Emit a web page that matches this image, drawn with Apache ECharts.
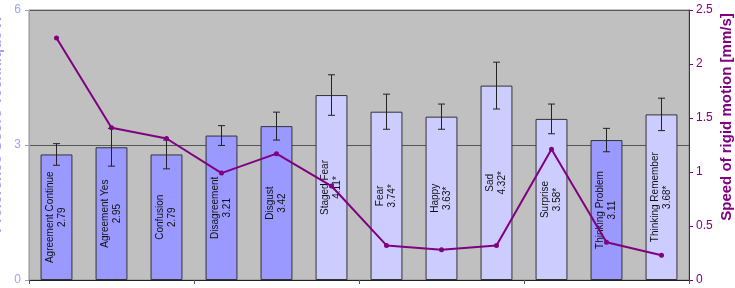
<!DOCTYPE html>
<html>
<head>
<meta charset="utf-8">
<script src="https://cdn.jsdelivr.net/npm/echarts@6/dist/echarts.min.js"></script>
<style>
  html, body { margin: 0; padding: 0; background: #fff; }
  #chart { width: 735px; height: 288px; }
</style>
</head>
<body>
<div id="chart"></div>
<script>
// values
const categories = ['Agreement Continue', 'Agreement Yes', 'Confusion', 'Disagreement', 'Disgust',
	'Staged Fear', 'Fear', 'Happy', 'Sad', 'Surprise', 'Thinking Problem', 'Thinking Remember'];
const scores = [2.79, 2.95, 2.79, 3.21, 3.42, 4.11, 3.74, 3.63, 4.32, 3.58, 3.11, 3.68];
const scoreErrors = [0.24, 0.42, 0.32, 0.22, 0.31, 0.45, 0.39, 0.28, 0.52, 0.33, 0.26, 0.36];
const significant = [false, false, false, false, false, true, true, true, true, true, false, true];
const speed = [2.24, 1.41, 1.31, 0.99, 1.17, 0.87, 0.32, 0.28, 0.32, 1.21, 0.35, 0.23];
const leftTicks = [0, 3, 6];

const chart = echarts.init(document.getElementById('chart'), null, { renderer: 'canvas' });

const barData = scores.map((v, i) => ({
	value: v,
	itemStyle: { color: significant[i] ? '#CCCCFF' : '#9999FF' }
}));

const errorData = scores.map((v, i) => [i, v - scoreErrors[i], v + scoreErrors[i]]);

const option = {
	animation: false,
	grid: {
		left: 29,
		right: 46,
		top: 10,
		bottom: 8,
		outerBoundsMode: 'none',
		containLabel: false,
		show: true,
		backgroundColor: '#C0C0C0',
		borderColor: '#8c8c8c',
		borderWidth: 1
	},
	xAxis: {
		type: 'category',
		data: categories,
		axisLine: { lineStyle: { color: '#222', width: 1 } },
		axisTick: { show: true, length: 4, lineStyle: { color: '#555' } },
		axisLabel: { show: false }
	},
	yAxis: [
		{
			type: 'value',
			min: leftTicks[0],
			max: leftTicks[leftTicks.length - 1],
			interval: 3,
			name: 'Preference Score Technique X',
			nameLocation: 'middle',
			nameGap: 25,
			nameMoveOverlap: false,
			nameRotate: 90,
			nameTextStyle: { color: '#A0A0FF', fontSize: 15, fontWeight: 'bold', fontFamily: 'Liberation Sans', padding: [0, 0, 0, 40] },
			axisLine: { show: true, lineStyle: { color: '#A0A0D0' } },
			axisTick: { show: true, length: 4, lineStyle: { color: '#A0A0D0' } },
			axisLabel: { color: '#A0A0FF', fontSize: 12, fontFamily: 'Liberation Sans', margin: 8 },
			splitLine: { show: true, lineStyle: { color: '#555', width: 1 } }
		},
		{
			type: 'value',
			min: 0,
			max: 2.5,
			interval: 0.5,
			position: 'right',
			name: 'Speed of rigid motion [mm/s]',
			nameLocation: 'middle',
			nameGap: 30,
			nameMoveOverlap: false,
			nameRotate: 90,
			nameTextStyle: { color: '#800080', fontSize: 15, fontWeight: 'bold', fontFamily: 'Liberation Sans', padding: [0, 0, 0, 56] },
			axisLine: { show: true, lineStyle: { color: '#800080' } },
			axisTick: { show: true, length: 4, lineStyle: { color: '#800080' } },
			axisLabel: { color: '#800080', fontSize: 12, fontFamily: 'Liberation Sans', margin: 7 },
			splitLine: { show: false }
		}
	],
	series: [
		{
			type: 'bar',
			yAxisIndex: 0,
			data: barData,
			barWidth: '58%',
			itemStyle: { borderColor: '#333', borderWidth: 1 },
			label: {
				show: true,
				position: 'inside',
				rotate: 90,
				align: 'center',
				verticalAlign: 'middle',
				color: '#111',
				fontSize: 10,
				lineHeight: 12,
				fontFamily: 'Liberation Sans',
				formatter: p => categories[p.dataIndex] + '\n' + scores[p.dataIndex].toFixed(2) + (significant[p.dataIndex] ? '*' : '')
			},
			z: 2
		},
		{
			type: 'custom',
			yAxisIndex: 0,
			data: errorData,
			renderItem: (params, api) => {
				const x = api.value(0);
				const lo = api.coord([x, api.value(1)]);
				const hi = api.coord([x, api.value(2)]);
				const cap = 3.5;
				const style = { stroke: '#222', lineWidth: 1 };
				return {
					type: 'group',
					children: [
						{ type: 'line', shape: { x1: hi[0], y1: hi[1], x2: lo[0], y2: lo[1] }, style },
						{ type: 'line', shape: { x1: hi[0] - cap, y1: hi[1], x2: hi[0] + cap, y2: hi[1] }, style },
						{ type: 'line', shape: { x1: lo[0] - cap, y1: lo[1], x2: lo[0] + cap, y2: lo[1] }, style }
					]
				};
			},
			z: 3
		},
		{
			type: 'line',
			yAxisIndex: 1,
			data: speed,
			symbol: 'circle',
			symbolSize: 5,
			lineStyle: { color: '#800080', width: 2 },
			itemStyle: { color: '#800080' },
			z: 4
		}
	]
};

chart.setOption(option);
</script>
</body>
</html>
